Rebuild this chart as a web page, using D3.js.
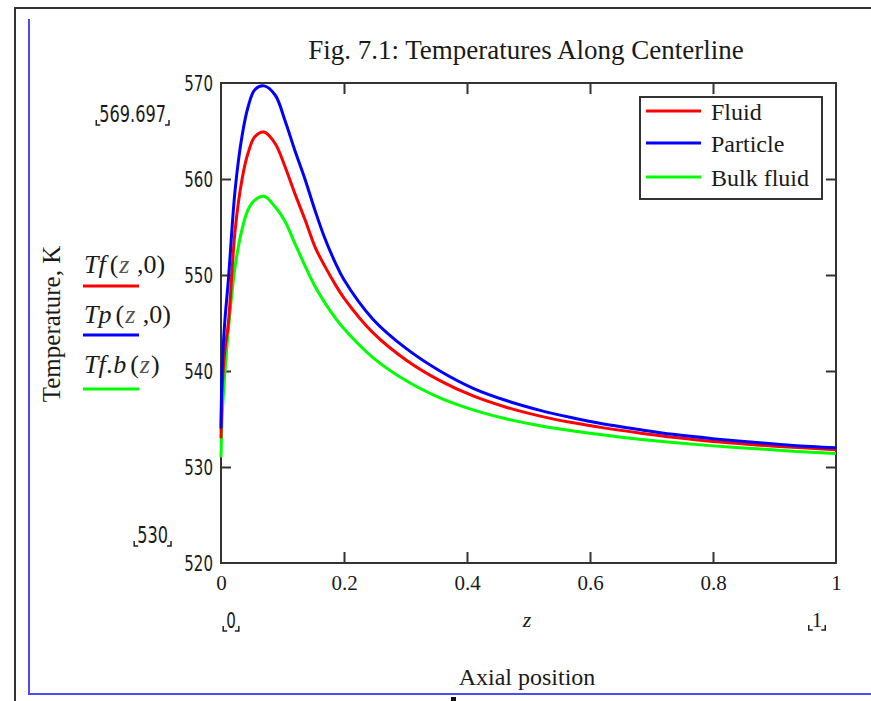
<!DOCTYPE html>
<html>
<head>
<meta charset="utf-8">
<script src="https://cdn.jsdelivr.net/npm/d3@7"></script>
<style>
  body { margin: 0; background: #fff; }
  svg text { fill: #1a1a1a; }
  .serif { font-family: "Liberation Serif", "Times New Roman", serif; }
  .narrow { font-family: "Liberation Sans Narrow", "DejaVu Sans Condensed", "DejaVu Sans", sans-serif; }
</style>
</head>
<body>
<div id="chart"></div>
<script>
// axial position (0..1) and centerline temperatures (K)
const zVals     = [0, 0.002, 0.006, 0.012, 0.023, 0.034, 0.044, 0.055, 0.07, 0.088, 0.104, 0.12, 0.137, 0.153, 0.169, 0.185, 0.2, 0.247, 0.302, 0.356, 0.41, 0.465, 0.519, 0.573, 0.62, 0.68, 0.735, 0.8, 0.871, 0.93, 1]
const tFluid    = [533.0, 538.5, 542.0, 545.0, 554.7, 559.9, 562.7, 564.4, 564.9, 563.7, 561.3, 558.5, 555.7, 552.9, 550.9, 549.1, 547.6, 544.0, 541.1, 539.0, 537.4, 536.2, 535.3, 534.6, 534.1, 533.55, 533.1, 532.65, 532.3, 532.05, 531.8]
const tParticle = [534.0, 540.5, 545.0, 549.5, 558.9, 564.4, 567.5, 569.3, 569.7, 568.75, 566.1, 563.0, 559.9, 556.7, 553.8, 551.4, 549.5, 545.4, 542.3, 540.0, 538.2, 536.9, 535.9, 535.1, 534.5, 533.9, 533.4, 532.95, 532.55, 532.25, 532.0]
const tBulk     = [531.0, 535.5, 539.5, 544.3, 550.9, 554.7, 556.8, 557.8, 558.2, 557.1, 555.6, 553.3, 550.9, 548.8, 547.1, 545.6, 544.4, 541.4, 538.95, 537.2, 535.95, 535.0, 534.3, 533.75, 533.35, 532.9, 532.55, 532.2, 531.9, 531.65, 531.4]

const seriesNames  = ["Fluid", "Particle", "Bulk fluid"]
const seriesColors = ["#ff0000", "#0000ff", "#00ff00"]
const xTicks = [0, 0.2, 0.4, 0.6, 0.8, 1]
const yTicks = [520, 530, 540, 550, 560, 570]

const W = 871, H = 701
const margin = {top: 83, right: 35, bottom: 138, left: 221}
const width = W - margin.left - margin.right
const height = H - margin.top - margin.bottom

const svg = d3.select("#chart").append("svg")
  .attr("width", W)
  .attr("height", H)

// squeeze the sans labels, the original uses a tall narrow face
function squeeze(sel, k) {
  sel.each(function() {
    const len = this.getComputedTextLength()
    d3.select(this).attr("textLength", len * k).attr("lengthAdjust", "spacingAndGlyphs")
  })
}

// outer frames
svg.append("path")
  .attr("d", "M15," + H + "V8H" + W)
  .attr("fill", "none").attr("stroke", "#333").attr("stroke-width", 2)
svg.append("path")
  .attr("d", "M29,19V694H" + W)
  .attr("fill", "none").attr("stroke", "#4a4aff").attr("stroke-width", 2)
svg.append("rect").attr("x", 451).attr("y", 697).attr("width", 5).attr("height", 4).attr("fill", "#111")

svg.append("text").attr("class", "serif")
  .attr("x", 526).attr("y", 59).attr("text-anchor", "middle")
  .attr("font-size", 27)
  .text("Fig. 7.1: Temperatures Along Centerline")

const g = svg.append("g")
  .attr("transform", "translate(" + margin.left + "," + margin.top + ")")

const x = d3.scaleLinear().domain([0, 1]).range([0, width])
const y = d3.scaleLinear().domain([520, 570]).range([height, 0])

// axes with inward ticks on all four sides, labels only left and bottom
const inner = v => v > 0 && v < 1
const innerY = v => v > 520 && v < 570

const xAxis = g.append("g")
  .attr("transform", "translate(0," + height + ")")
  .call(d3.axisBottom(x).tickValues(xTicks).tickSizeInner(-11).tickSizeOuter(0).tickPadding(12).tickFormat(d3.format("")))
xAxis.select(".domain").remove()
xAxis.selectAll(".tick text").attr("class", "serif").attr("font-size", 21).attr("fill", "#333")
xAxis.selectAll(".tick line").filter(d => !inner(d)).remove()

const yAxis = g.append("g")
  .call(d3.axisLeft(y).tickValues(yTicks).tickSizeInner(-10).tickSizeOuter(0).tickPadding(8))
yAxis.select(".domain").remove()
yAxis.selectAll(".tick text").attr("class", "narrow").attr("font-size", 22).attr("fill", "#333")
squeeze(yAxis.selectAll(".tick text"), 0.76)
yAxis.selectAll(".tick line").filter(d => !innerY(d)).remove()

const xTop = g.append("g")
  .call(d3.axisTop(x).tickValues(xTicks.filter(inner)).tickSizeInner(-11).tickSizeOuter(0).tickFormat(""))
xTop.select(".domain").remove()
const yRight = g.append("g")
  .attr("transform", "translate(" + width + ",0)")
  .call(d3.axisRight(y).tickValues(yTicks.filter(innerY)).tickSizeInner(-10).tickSizeOuter(0).tickFormat(""))
yRight.select(".domain").remove()

g.selectAll(".tick line").attr("stroke", "#333").attr("stroke-width", 2)

g.append("rect")
  .attr("width", width).attr("height", height)
  .attr("fill", "none").attr("stroke", "#333").attr("stroke-width", 2)

// curves
const seriesData = [tFluid, tParticle, tBulk]
const line = d3.line()
  .x(d => x(d[0]))
  .y(d => y(d[1]))
  .curve(d3.curveCatmullRom.alpha(0.5))

const drawOrder = [2, 0, 1]
drawOrder.forEach(function(i) {
  g.append("path")
    .datum(zVals.map((z, k) => [z, seriesData[i][k]]))
    .attr("fill", "none")
    .attr("stroke", seriesColors[i])
    .attr("stroke-width", 3)
    .attr("d", line)
})

// legend
const legend = svg.append("g")
legend.append("rect")
  .attr("x", 640).attr("y", 97).attr("width", 182).attr("height", 102)
  .attr("fill", "#fff").attr("stroke", "#333").attr("stroke-width", 2)
const legY = [111, 143, 177]
seriesNames.forEach(function(name, i) {
  legend.append("line")
    .attr("x1", 646).attr("x2", 701).attr("y1", legY[i]).attr("y2", legY[i])
    .attr("stroke", seriesColors[i]).attr("stroke-width", 3)
  legend.append("text").attr("class", "serif")
    .attr("x", 711).attr("y", legY[i] + 9)
    .attr("font-size", 24)
    .text(name)
})

// y label
svg.append("text").attr("class", "serif")
  .attr("transform", "translate(60,324) rotate(-90)")
  .attr("text-anchor", "middle")
  .attr("font-size", 25)
  .text("Temperature, K")

// Mathcad style function labels on the left
const fnLabels = [
  {base: "Tf", sub: null, args: ["(", "z", " ,0)"]},
  {base: "Tp", sub: null, args: ["(", "z", " ,0)"]},
  {base: "Tf", sub: ".b", args: ["(", "z", ")"]}
]
const fnY = [273, 323, 373]
const underY = [286, 335, 389]
fnLabels.forEach(function(f, i) {
  const t = svg.append("text").attr("class", "serif")
    .attr("x", 84).attr("y", fnY[i]).attr("font-size", 26)
  t.append("tspan").attr("font-style", "italic").text(f.base)
  if (f.sub) t.append("tspan").attr("font-style", "italic").attr("dx", 1).text(f.sub)
  t.append("tspan").attr("dx", 4).text(f.args[0])
  t.append("tspan").attr("font-style", "italic").attr("fill", "#555").attr("dx", 1).text(f.args[1])
  t.append("tspan").attr("dx", 1).text(f.args[2])
  svg.append("line")
    .attr("x1", 83).attr("x2", 139).attr("y1", underY[i]).attr("y2", underY[i])
    .attr("stroke", seriesColors[i]).attr("stroke-width", 3)
})

// placeholder range values with corner brackets
function placeholder(txt, px, py, anchor, cls, size, k) {
  const t = svg.append("text").attr("class", cls)
    .attr("x", px).attr("y", py).attr("text-anchor", anchor)
    .attr("font-size", size).attr("fill", "#333")
    .text(txt)
  if (k) squeeze(t, k)
  const b = t.node().getBBox()
  const l = b.x - 3, r = b.x + b.width + 3, bt = py + 3
  svg.append("path")
    .attr("d", "M" + l + "," + (bt - 5) + "V" + bt + "H" + (l + 4) +
               "M" + r + "," + (bt - 5) + "V" + bt + "H" + (r - 4))
    .attr("fill", "none").attr("stroke", "#222").attr("stroke-width", 1.5)
}
placeholder("569.697", 166, 122, "end", "narrow", 23, 0.78)
placeholder("530", 168, 543, "end", "narrow", 23, 0.78)
placeholder("0", 231, 628, "middle", "narrow", 21, 0.8)
placeholder("1", 817, 627, "middle", "serif", 21, null)

svg.append("text").attr("class", "serif")
  .attr("x", 527).attr("y", 627).attr("text-anchor", "middle")
  .attr("font-size", 22).attr("font-style", "italic").attr("fill", "#444")
  .text("z")

svg.append("text").attr("class", "serif")
  .attr("x", 527).attr("y", 685).attr("text-anchor", "middle")
  .attr("font-size", 24)
  .text("Axial position")
</script>
</body>
</html>
